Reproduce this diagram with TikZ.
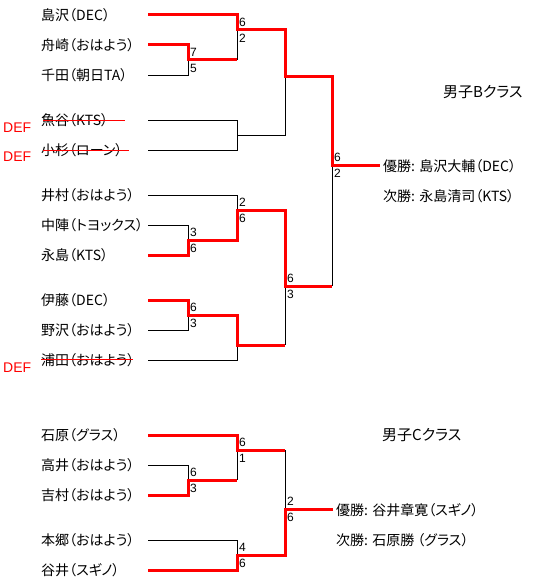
\documentclass[tikz,border=0pt]{standalone}
\usepackage{fontspec}
\setmainfont[RawFeature=+palt]{Noto Sans CJK JP}
\newfontfamily\numfont{Liberation Sans}
\begin{document}
\begin{tikzpicture}[x=1pt,y=-1pt,
  win/.style={draw=red,line width=3pt,line join=miter},
  lose/.style={draw=black,line width=1pt},
  strike/.style={draw=red,line width=1pt},
  nm/.style={anchor=west,inner sep=0pt,font=\fontsize{14}{14}\selectfont},
  ttl/.style={anchor=west,inner sep=0pt,font=\fontsize{15}{15}\selectfont},
  def/.style={anchor=west,inner sep=0pt,text=red,font=\numfont\fontsize{14}{14}\selectfont},
  up/.style={anchor=south west,inner sep=0pt,font=\numfont\fontsize{12}{12}\selectfont},
  dn/.style={anchor=north west,inner sep=0pt,font=\numfont\fontsize{12}{12}\selectfont}]
\useasboundingbox[fill=white] (0,0) rectangle (541,586);

% ---------- B class names ----------
\node[nm] (b1) at (41,15) {島沢（DEC）};
\node[nm] (b2) at (41,45) {舟崎（おはよう）};
\node[nm] (b3) at (41,75) {千田（朝日TA）};
\node[nm] (b4) at (41,120) {魚谷（KTS）};
\node[nm] (b5) at (41,150) {小杉（ローン）};
\node[nm] (b6) at (41,195) {井村（おはよう）};
\node[nm] (b7) at (41,225) {中陣（トヨックス）};
\node[nm] (b8) at (41,255) {永島（KTS）};
\node[nm] (b9) at (41,300) {伊藤（DEC）};
\node[nm] (b10) at (41,330) {野沢（おはよう）};
\node[nm] (b11) at (41,360) {浦田（おはよう）};

\node[def] (d1) at (3,128) {DEF};
\node[def] (d2) at (3,157) {DEF};
\node[def] (d3) at (3,368) {DEF};

\draw[strike] (43,120) -- (125,120);
\draw[strike] (43,150) -- (129,150);
\draw[strike] (41,359) -- (133,359);

% ---------- B class bracket ----------
\draw[lose] (148,75) -- (188,75) -- (188,60);
\draw[lose] (237,30) -- (237,60);
\draw[lose] (148,120) -- (237,120) -- (237,150) -- (148,150);
\draw[lose] (237,135) -- (285,135) -- (285,76);
\draw[lose] (148,195) -- (237,195) -- (237,210);
\draw[lose] (148,225) -- (188,225) -- (188,240);
\draw[lose] (148,330) -- (188,330) -- (188,315);
\draw[lose] (148,360) -- (237,360) -- (237,345);
\draw[lose] (285,286) -- (285,345);
\draw[lose] (332,165) -- (332,286);

\draw[win] (148,15) -- (237,15) -- (237,30) -- (285,30) -- (285,76) -- (332,76) -- (332,165) -- (380,165);
\draw[win] (148,45) -- (188,45) -- (188,60) -- (237,60);
\draw[win] (148,255) -- (188,255) -- (188,240) -- (237,240) -- (237,210) -- (285,210) -- (285,286) -- (332,286);
\draw[win] (148,300) -- (188,300) -- (188,315) -- (237,315) -- (237,345) -- (285,345);

% scores B
\node[up] (s1) at (190,57) {7};  \node[dn] (s2) at (190,64) {5};
\node[up] (s3) at (239,27) {6};  \node[dn] (s4) at (239,34) {2};
\node[up] (s5) at (239,207) {2}; \node[dn] (s6) at (239,214) {6};
\node[up] (s7) at (190,237) {3}; \node[dn] (s8) at (190,244) {6};
\node[up] (s9) at (190,312) {6}; \node[dn] (s10) at (190,319) {3};
\node[up] (s11) at (287,283) {6}; \node[dn] (s12) at (287,290) {3};
\node[up] (s13) at (334,162) {6}; \node[dn] (s14) at (334,169) {2};

\node[ttl] (tb) at (443,92) {男子Bクラス};
\node[nm] (wb) at (383,166) {優勝: 島沢大輔（DEC）};
\node[nm] (rb) at (383,196) {次勝: 永島清司（KTS）};

% ---------- C class ----------
\node[nm] (c1) at (41,435) {石原（グラス）};
\node[nm] (c2) at (41,465) {高井（おはよう）};
\node[nm] (c3) at (41,495) {吉村（おはよう）};
\node[nm] (c4) at (41,540) {本郷（おはよう）};
\node[nm] (c5) at (41,570) {谷井（スギノ）};

\draw[lose] (148,465) -- (188,465) -- (188,480);
\draw[lose] (237,450) -- (237,480);
\draw[lose] (148,540) -- (237,540) -- (237,555);
\draw[lose] (285,450) -- (285,509);

\draw[win] (148,435) -- (237,435) -- (237,450) -- (285,450);
\draw[win] (148,495) -- (188,495) -- (188,480) -- (237,480);
\draw[win] (148,570) -- (237,570) -- (237,555) -- (285,555) -- (285,509) -- (333,509);

\node[up] (t1) at (239,447) {6}; \node[dn] (t2) at (239,454) {1};
\node[up] (t3) at (190,477) {6}; \node[dn] (t4) at (190,484) {3};
\node[up] (t5) at (239,552) {4}; \node[dn] (t6) at (239,559) {6};
\node[up] (t7) at (287,506) {2}; \node[dn] (t8) at (287,513) {6};

\node[ttl] (tc) at (382,435) {男子Cクラス};
\node[nm] (wc) at (336,510) {優勝: 谷井章寛（スギノ）};
\node[nm] (rc) at (336,540) {次勝: 石原勝 （グラス）};
\end{tikzpicture}
\end{document}
